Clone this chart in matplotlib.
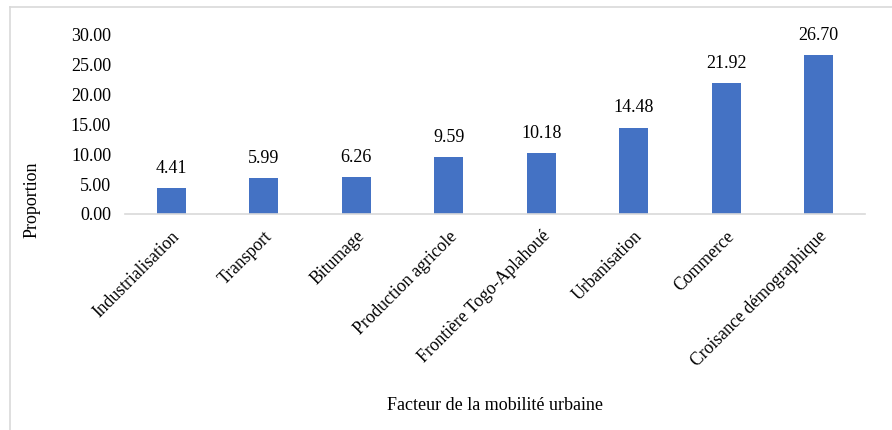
import matplotlib
matplotlib.use("Agg")
import matplotlib.pyplot as plt
from matplotlib.lines import Line2D
from matplotlib.transforms import ScaledTranslation

plt.rcParams['font.family'] = ['Liberation Serif', 'DejaVu Serif']

categories = ["Industrialisation", "Transport", "Bitumage", "Production agricole",
              "Frontière Togo-Aplahoué", "Urbanisation", "Commerce",
              "Croisance démographique"]
values = [4.41, 5.99, 6.26, 9.59, 10.18, 14.48, 21.92, 26.70]
yticks = [0, 5, 10, 15, 20, 25, 30]

W, H = 892, 430
fig = plt.figure(figsize=(W / 100, H / 100), dpi=100)
ax = fig.add_axes([125 / W, 1 - 214 / H, 740 / W, (214 - 35) / H])

x = list(range(len(categories)))
ax.bar(x, values, width=0.31, color="#4472C4", zorder=2)
for xi, v in zip(x, values):
    ax.annotate(f"{v:.2f}", (xi, v), xytext=(0, 8), textcoords="offset points",
                ha="center", va="bottom", fontsize=13)

ax.set_xlim(-0.5, len(categories) - 0.5)
ax.set_ylim(0, 30)
ax.set_yticks(yticks)
ax.set_yticklabels([f"{t:.2f}" for t in yticks], fontsize=13)
ax.set_xticks(x)
ax.set_xticklabels(categories, rotation=45, ha="right", va="top",
                   rotation_mode="anchor", fontsize=12.7)
shift = ScaledTranslation(-5 / 100, 0, fig.dpi_scale_trans)
for lbl in ax.get_xticklabels():
    lbl.set_transform(lbl.get_transform() + shift)
ax.tick_params(axis="both", length=0)
ax.tick_params(axis="y", pad=10)
ax.tick_params(axis="x", pad=10)
for s in ("left", "right", "top"):
    ax.spines[s].set_visible(False)
ax.spines["bottom"].set_color("#D9D9D9")
ax.spines["bottom"].set_linewidth(1.2)

fig.text(32 / W, 1 - 200 / H, "Proportion", rotation=90, ha="center",
         va="center", fontsize=13)
fig.text(495 / W, 1 - 405 / H, "Facteur de la mobilité urbaine", ha="center",
         va="center", fontsize=13)

# light frame along the top and left edges
fig.add_artist(Line2D([10 / W, 1], [1 - 7 / H, 1 - 7 / H], transform=fig.transFigure,
                      color="#D9D9D9", linewidth=1.2))
fig.add_artist(Line2D([10 / W, 10 / W], [0, 1 - 7 / H], transform=fig.transFigure,
                      color="#D9D9D9", linewidth=1.2))

fig.savefig("out.png", dpi=100, facecolor="white")
